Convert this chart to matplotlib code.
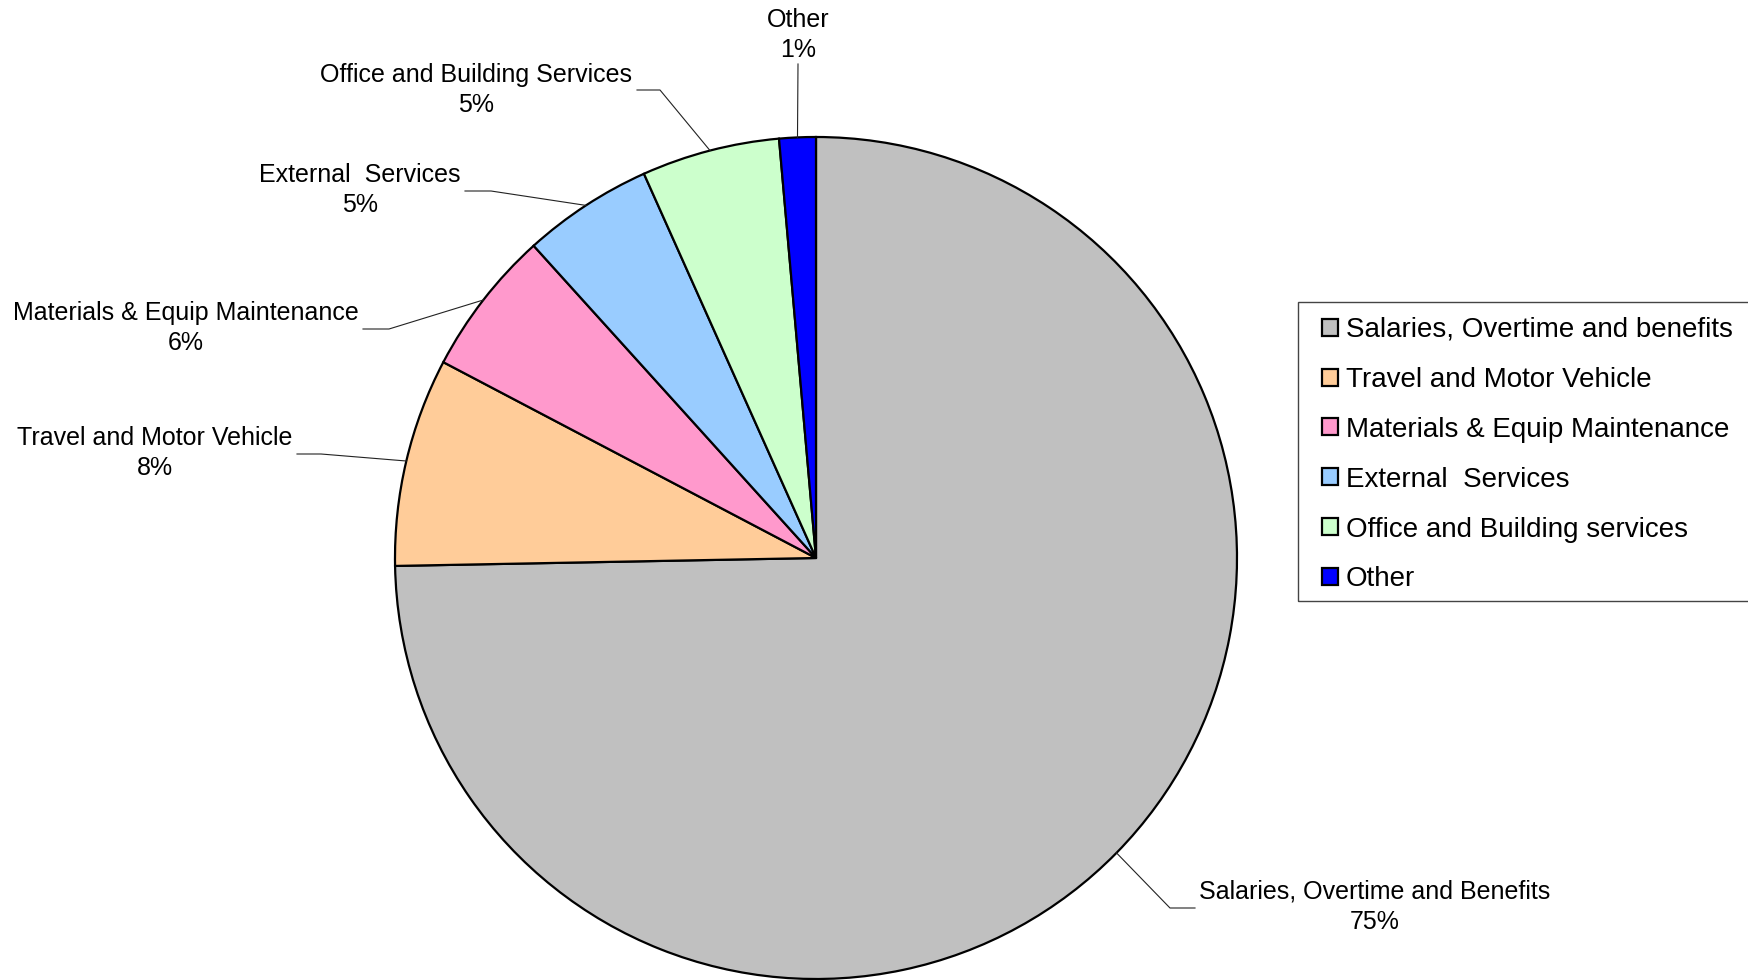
import numpy as np
import matplotlib.pyplot as plt
from matplotlib.patches import Rectangle

plt.rcParams['font.family'] = ['Liberation Sans', 'DejaVu Sans']

# spending shares (percent of total)
slice_labels = ['Salaries, Overtime and Benefits', 'Travel and Motor Vehicle',
                'Materials & Equip Maintenance', 'External  Services',
                'Office and Building Services', 'Other']
legend_labels = ['Salaries, Overtime and benefits', 'Travel and Motor Vehicle',
                 'Materials & Equip Maintenance', 'External  Services',
                 'Office and Building services', 'Other']
shares = [74.7, 8.0, 5.6, 5.0, 5.3, 1.4]
colors = ['#C0C0C0', '#FFCC99', '#FF99CC', '#99CCFF', '#CCFFCC', '#0000FF']

W, H = 1748, 980
fig = plt.figure(figsize=(W / 100, H / 100), dpi=100)
ax = fig.add_axes([0, 0, 1, 1])

cx, cy, r = 816, H - 558, 421
wedges, _ = ax.pie(shares, colors=colors, startangle=90, counterclock=False,
                   center=(cx, cy), radius=r, frame=True,
                   wedgeprops=dict(edgecolor='black', linewidth=1.6))
ax.set_xlim(0, W)
ax.set_ylim(0, H)
ax.set_aspect('equal')
ax.axis('off')

# label layout in pixels from top: (elbow x, elbow y, line end x, text x, text y)
layout = [
    (1170, 908, 1195, 1375, 907),
    (321, 454, 297, 155, 453),
    (389, 329, 363, 186, 328),
    (491, 191, 465, 360, 190),
    (660, 90, 637, 476, 90),
    (None, None, None, 798, 35),
]

for w, lab, val, (ex, ey, lx, tx, ty) in zip(wedges, slice_labels, shares, layout):
    mid = np.deg2rad((w.theta1 + w.theta2) / 2)
    px, py = cx + r * np.cos(mid), cy + r * np.sin(mid)
    if ex is None:
        xs, ys = [px, tx], [py, H - 64]
    else:
        xs, ys = [px, ex, lx], [py, H - ey, H - ey]
    ax.plot(xs, ys, color='#222222', linewidth=0.8)
    ax.text(tx, H - ty, f'{lab}\n{val:.0f}%', ha='center', va='center',
            fontsize=18, linespacing=1.36)

# legend box runs off the right edge
ax.add_patch(Rectangle((1298, H - 601), 460, 299, fill=False,
                       edgecolor='#444444', linewidth=1.0, clip_on=False))
fig.legend(wedges, legend_labels, loc='upper left',
           bbox_to_anchor=(1322 / W, 1 - 317 / H), borderaxespad=0,
           fontsize=20, frameon=False, borderpad=0,
           handlelength=0.56, handleheight=0.56, handletextpad=0.29,
           labelspacing=0.86)

fig.savefig('out.png', dpi=100)
